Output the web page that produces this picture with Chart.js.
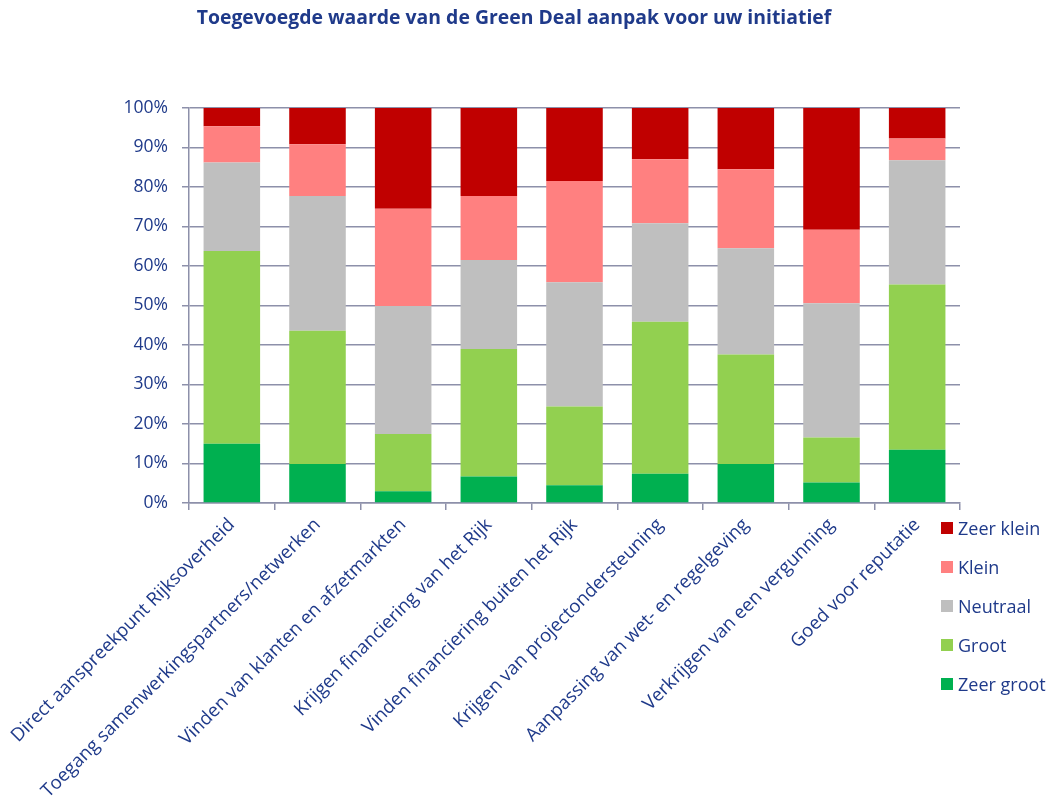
<!DOCTYPE html>
<html>
<head>
<meta charset="utf-8">
<script src="https://cdn.jsdelivr.net/npm/chart.js@4.4.1/dist/chart.umd.min.js"></script>
<style>
    body { margin: 0; background: #fff; font-family: 'Open Sans', sans-serif; }
    #wrap { position: relative; width: 1053px; height: 803px; }
    #title { position: absolute; left: 0; top: 4px; width: 1028px; text-align: center;
             font: bold 19.4px 'Open Sans', sans-serif; line-height: 26px; color: #1f3a8a; }
    #legend { position: absolute; left: 941px; top: 508px; }
    .item { height: 39.1px; display: flex; align-items: center; font-size: 18px; color: #1f3a8a; }
    .item span.box { width: 12px; height: 12px; margin-right: 5px; display: inline-block; }
</style>
</head>
<body>
<div id="wrap">
    <canvas id="chart" width="1053" height="803"></canvas>
    <div id="title">Toegevoegde waarde van de Green Deal aanpak voor uw initiatief</div>
    <div id="legend"></div>
</div>
<script>
const categories = [
    'Direct aanspreekpunt Rijksoverheid',
    'Toegang samenwerkingspartners/netwerken',
    'Vinden van klanten en afzetmarkten',
    'Krijgen financiering van het Rijk',
    'Vinden financiering buiten het Rijk',
    'Krijgen van projectondersteuning',
    'Aanpassing van wet- en regelgeving',
    'Verkrijgen van een vergunning',
    'Goed voor reputatie'
];

// percentages per category
const zeerGroot = [15.0, 9.9, 3.0, 6.7, 4.5, 7.4, 9.9, 5.2, 13.5];
const groot     = [48.8, 33.7, 14.5, 32.3, 19.9, 38.5, 27.7, 11.4, 41.8];
const neutraal  = [22.4, 34.1, 32.4, 22.5, 31.5, 24.9, 26.9, 34.0, 31.5];
const klein     = [9.2, 13.1, 24.6, 16.2, 25.6, 16.2, 20.0, 18.6, 5.5];
const zeerKlein = [4.6, 9.2, 25.5, 22.3, 18.5, 13.0, 15.5, 30.8, 7.7];

const seriesNames = ['Zeer groot', 'Groot', 'Neutraal', 'Klein', 'Zeer klein'];
const seriesColors = ['#00b050', '#92d050', '#bfbfbf', '#ff8080', '#c00000'];
const seriesData = [zeerGroot, groot, neutraal, klein, zeerKlein];

const yTicks = [0, 10, 20, 30, 40, 50, 60, 70, 80, 90, 100];

const textColor = '#1f3a8a';
const gridColor = '#8d90aa';

const datasets = seriesNames.map((name, i) => ({
    label: name,
    data: seriesData[i],
    backgroundColor: seriesColors[i],
    borderWidth: 0,
    barPercentage: 0.66,
    categoryPercentage: 1
}));

// legend, top to bottom: Zeer klein first
const legendDiv = document.getElementById('legend');
for (let i = seriesNames.length - 1; i >= 0; i--) {
    legendDiv.innerHTML += `<div class="item"><span class="box" style="background:${seriesColors[i]}"></span>${seriesNames[i]}</div>`;
}

new Chart(document.getElementById('chart'), {
    type: 'bar',
    data: { labels: categories, datasets: datasets },
    options: {
        responsive: false,
        animation: false,
        layout: { padding: { top: 108, right: 93, left: 0, bottom: 0 } },
        plugins: {
            legend: { display: false },
            title: { display: false },
            tooltip: { enabled: false }
        },
        scales: {
            x: {
                stacked: true,
                offset: true,
                grid: { drawOnChartArea: false, drawTicks: true, tickLength: 7, color: gridColor, lineWidth: 1.5 },
                border: { display: true, color: gridColor, width: 1.5 },
                ticks: {
                    autoSkip: false,
                    maxRotation: 45,
                    minRotation: 45,
                    padding: 4,
                    color: textColor,
                    font: { family: 'Open Sans', size: 18.5 }
                },
                afterFit: (scale) => { scale.height = 300; }
            },
            y: {
                stacked: true,
                min: 0,
                max: 100,
                afterBuildTicks: (scale) => { scale.ticks = yTicks.map(v => ({ value: v })); },
                grid: { color: gridColor, lineWidth: 1.5, tickLength: 7 },
                border: { display: true, color: gridColor, width: 1.5 },
                ticks: {
                    padding: 14,
                    color: textColor,
                    font: { family: 'Open Sans', size: 17.5 },
                    callback: (v) => v + '%'
                },
                afterFit: (scale) => { scale.width = 189; }
            }
        }
    }
});
</script>
</body>
</html>
